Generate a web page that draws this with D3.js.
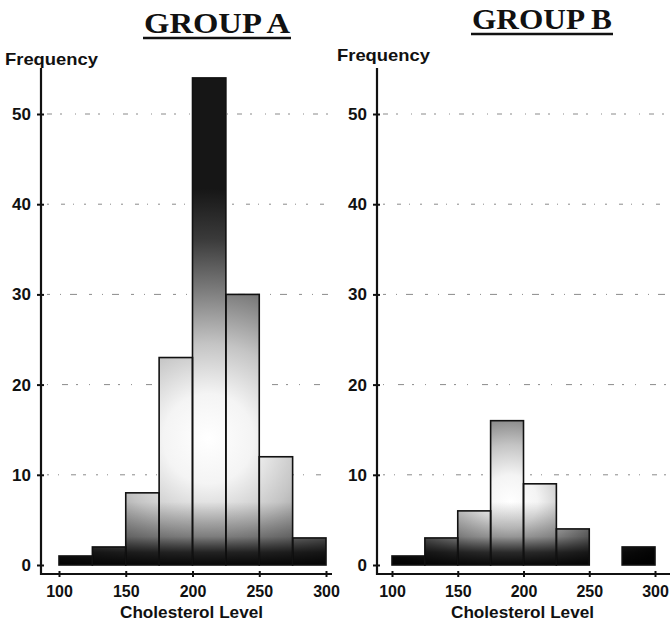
<!DOCTYPE html>
<html><head><meta charset="utf-8">
<script src="https://cdn.jsdelivr.net/npm/d3@7"></script>
<style>
body{margin:0;background:#fff;}
svg{display:block;}
</style></head>
<body>
<svg id="chart" width="670" height="624"></svg>
<script>
const binStarts = [100,125,150,175,200,225,250,275];
const binWidth = 25;
const groupA = [1,2,8,23,54,30,12,3];
const groupB = [1,3,6,16,9,4,0,2];
const yTicks = [0,10,20,30,40,50];
const gridTicks = [10,20,30,40,50];
const xTicks = [100,150,200,250,300];
const titles = ["GROUP A","GROUP B"];
const yLabel = "Frequency";
const xLabel = "Cholesterol Level";

const svg = d3.select("#chart");
const defs = svg.append("defs");

const panels = [
  {title: titles[0], data: groupA, axisX: 41, xr:[59,326], axisEnd:332, titleX:217, titleY:33, titleLen:146, freqX:5, freqY:65, hl:{x:212,y:14,r:250}, id:"a"},
  {title: titles[1], data: groupB, axisX: 377, xr:[392,655], axisEnd:670, titleX:542, titleY:29, titleLen:140, freqX:337, freqY:61, hl:{x:190,y:7,r:150}, id:"b"}
];

const y = d3.scaleLinear().domain([0,50]).range([565,114]);

panels.forEach(p => {
  const x = d3.scaleLinear().domain([100,300]).range(p.xr);
  const g = svg.append("g");

  // gradients
  const rg = defs.append("radialGradient").attr("id","rg"+p.id)
    .attr("gradientUnits","userSpaceOnUse")
    .attr("cx", x(p.hl.x)).attr("cy", y(p.hl.y)).attr("r", p.hl.r)
    .attr("fx", x(p.hl.x)).attr("fy", y(p.hl.y));
  [[0,"#ffffff"],[0.18,"#f4f4f4"],[0.38,"#c4c4c4"],[0.6,"#7a7a7a"],[0.8,"#3a3a3a"],[1,"#161616"]]
    .forEach(s => rg.append("stop").attr("offset", s[0]).attr("stop-color", s[1]));
  const lg = defs.append("linearGradient").attr("id","lg"+p.id)
    .attr("gradientUnits","userSpaceOnUse")
    .attr("x1",0).attr("x2",0).attr("y1", y(7)).attr("y2", y(0));
  [[0,"#000",0],[0.55,"#000",0.35],[0.8,"#000",0.8],[1,"#000",0.95]]
    .forEach(s => lg.append("stop").attr("offset", s[0]).attr("stop-color", s[1]).attr("stop-opacity", s[2]));

  // title
  g.append("text").attr("x", p.titleX).attr("y", p.titleY)
    .attr("text-anchor","middle")
    .attr("font-family","'Liberation Serif','Times New Roman',serif")
    .attr("font-weight","bold").attr("font-size",29)
    .attr("textLength", p.titleLen).attr("lengthAdjust","spacingAndGlyphs")
    .attr("fill","#111").text(p.title);
  g.append("line").attr("x1", p.titleX - p.titleLen/2 - 1).attr("x2", p.titleX + p.titleLen/2 + 1)
    .attr("y1", p.titleY + 5).attr("y2", p.titleY + 5)
    .attr("stroke","#111").attr("stroke-width",2.5);

  // Frequency
  g.append("text").attr("x", p.freqX).attr("y", p.freqY)
    .attr("font-family","'Liberation Sans',Arial,sans-serif")
    .attr("font-weight","bold").attr("font-size",17)
    .attr("textLength",93).attr("lengthAdjust","spacingAndGlyphs")
    .attr("fill","#111").text(yLabel);

  // gridlines
  g.selectAll(".grid").data(gridTicks).enter().append("line")
    .attr("x1", p.axisX + 6).attr("x2", p.axisEnd - 4)
    .attr("y1", d => y(d)).attr("y2", d => y(d))
    .attr("stroke","#8a8a8a").attr("stroke-width",1)
    .attr("stroke-dasharray", (d,i) => ["2,9,1,12,5,7,3,10","1,14,6,8,2,11","3,10,1,9,7,12","2,12,4,8,1,10","5,8,2,13,1,9"][i]);

  // bars
  const bars = p.data.map((v,i) => ({x0: binStarts[i], v}));
  const bg = g.append("g");
  bg.selectAll("rect.f").data(bars.filter(d => d.v > 0)).enter().append("rect")
    .attr("x", d => x(d.x0)).attr("width", d => x(d.x0 + binWidth) - x(d.x0))
    .attr("y", d => y(d.v)).attr("height", d => y(0) - y(d.v))
    .attr("fill", "url(#rg"+p.id+")");
  bg.selectAll("rect.s").data(bars.filter(d => d.v > 0)).enter().append("rect")
    .attr("x", d => x(d.x0)).attr("width", d => x(d.x0 + binWidth) - x(d.x0))
    .attr("y", d => y(d.v)).attr("height", d => y(0) - y(d.v))
    .attr("fill", "url(#lg"+p.id+")")
    .attr("stroke","#111").attr("stroke-width",1.6);

  // axes
  const yAxis = d3.axisLeft(y).tickValues(yTicks).tickSize(4).tickPadding(6).tickFormat(d3.format("d"));
  const ya = g.append("g").attr("transform", `translate(${p.axisX},0)`).call(yAxis);
  ya.select(".domain").remove();
  ya.selectAll(".tick line").attr("x1",-4).attr("x2",3).attr("stroke","#111").attr("stroke-width",2);
  ya.selectAll(".tick text").attr("font-family","'Liberation Sans',Arial,sans-serif")
    .attr("font-weight","bold").attr("font-size",17).attr("fill","#111");

  const xAxis = d3.axisBottom(x).tickValues(xTicks).tickSize(3).tickPadding(9).tickFormat(d3.format("d"));
  const xa = g.append("g").attr("transform", `translate(0,574)`).call(xAxis);
  xa.select(".domain").remove();
  xa.selectAll(".tick line").attr("y1",-3).attr("y2",3).attr("stroke","#111").attr("stroke-width",2);
  xa.selectAll(".tick text").attr("font-family","'Liberation Sans',Arial,sans-serif")
    .attr("font-weight","bold").attr("font-size",16).attr("fill","#111");

  g.append("line").attr("x1", p.axisX).attr("x2", p.axisX).attr("y1", 68).attr("y2", 575)
    .attr("stroke","#111").attr("stroke-width",2.2);
  g.append("line").attr("x1", p.axisX - 1).attr("x2", p.axisEnd).attr("y1", 574).attr("y2", 574)
    .attr("stroke","#111").attr("stroke-width",2);

  g.append("text").attr("x", (p.xr[0]+p.xr[1])/2 - 1).attr("y", 618)
    .attr("text-anchor","middle")
    .attr("font-family","'Liberation Sans',Arial,sans-serif")
    .attr("font-weight","bold").attr("font-size",16)
    .attr("textLength",143).attr("lengthAdjust","spacingAndGlyphs")
    .attr("fill","#111").text(xLabel);
});
</script>
</body></html>
